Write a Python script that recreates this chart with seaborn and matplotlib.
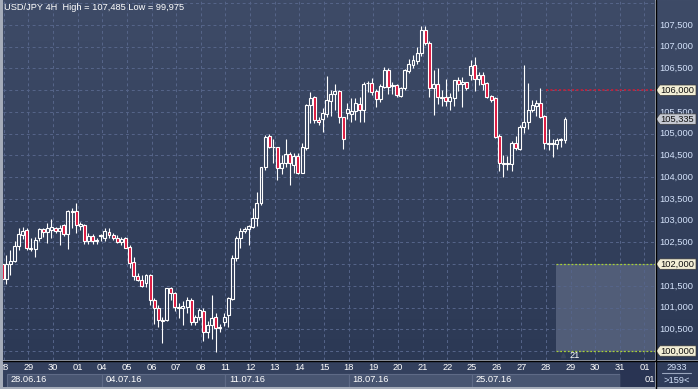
import numpy as np
import pandas as pd
import matplotlib
matplotlib.use("Agg")
import matplotlib.pyplot as plt
from matplotlib.colors import LinearSegmentedColormap
from matplotlib.patches import Rectangle, Polygon
from matplotlib.lines import Line2D
import seaborn as sns

# 4H candles, 28.06.16 - 28.07.16
opens = [102.00, 101.65, 102.00, 102.08, 102.42, 102.67, 102.78, 102.38, 102.35, 102.59,
         102.80, 102.73, 102.79, 102.82, 102.76, 102.90, 102.69, 103.20, 103.23, 102.88,
         102.90, 102.53, 102.65, 102.52, 102.64, 102.60, 102.73, 102.67, 102.60, 102.51,
         102.59, 102.40, 102.04, 101.72, 101.64, 101.56, 101.75, 101.17, 100.98, 100.72,
         100.71, 101.44, 101.33, 101.00, 100.99, 101.02, 101.17, 100.66, 100.78, 100.93,
         100.43, 100.60, 100.78, 100.53, 100.66, 100.83, 101.20, 102.13, 102.60, 102.75,
         102.80, 102.86, 103.05, 103.40, 104.23, 104.95, 104.69, 104.69, 104.20, 104.33,
         104.53, 104.28, 104.49, 104.10, 104.66, 105.66, 105.84, 105.31, 105.33, 105.45,
         105.76, 105.91, 105.98, 105.39, 105.48, 105.46, 105.52, 105.69, 105.55, 106.16,
         106.17, 105.99, 105.79, 106.08, 106.47, 106.10, 106.12, 105.87, 106.04, 106.45,
         106.58, 106.68, 106.85, 107.39, 107.09, 106.04, 106.14, 105.82, 105.84, 105.76,
         105.81, 106.23, 106.14, 106.18, 106.35, 106.58, 106.25, 106.35, 106.17, 105.87,
         105.81, 104.95, 104.33, 104.30, 104.30, 104.79, 104.64, 105.15, 105.28, 105.55,
         105.64, 105.71, 105.41, 104.78, 104.77, 104.76, 104.85, 104.85]
highs = [102.05, 102.21, 102.33, 102.52, 102.83, 102.85, 102.83, 102.61, 102.63, 102.83,
         102.83, 102.95, 103.03, 102.85, 102.90, 102.93, 103.25, 103.28, 103.40, 102.97,
         102.92, 102.71, 102.69, 102.60, 102.69, 102.82, 102.82, 102.71, 102.67, 102.62,
         102.62, 102.45, 102.16, 101.80, 101.75, 101.77, 101.77, 101.22, 101.05, 100.79,
         101.45, 101.48, 101.35, 101.10, 101.14, 101.24, 101.21, 100.83, 100.98, 100.98,
         100.68, 101.30, 100.88, 100.62, 100.87, 101.25, 102.21, 102.65, 102.82, 102.85,
         102.90, 103.30, 103.65, 104.24, 104.97, 104.99, 104.87, 104.70, 104.51, 104.87,
         104.57, 104.55, 104.55, 104.78, 105.68, 105.97, 105.87, 105.38, 105.58, 106.33,
         106.00, 106.14, 106.00, 105.39, 105.71, 105.81, 105.81, 105.84, 106.19, 106.22,
         106.27, 106.02, 106.14, 106.54, 106.50, 106.18, 106.14, 106.08, 106.49, 106.71,
         106.81, 107.00, 107.48, 107.485, 107.14, 106.46, 106.50, 106.00, 106.25, 105.93,
         106.24, 106.30, 106.30, 106.20, 106.69, 106.76, 106.41, 106.41, 106.20, 105.89,
         105.85, 104.99, 104.51, 104.49, 104.82, 104.95, 105.20, 106.58, 106.16, 105.78,
         105.78, 106.04, 105.43, 105.10, 104.87, 104.91, 104.91, 105.39]
lows = [101.58, 101.54, 101.75, 102.05, 102.33, 102.58, 102.33, 102.29, 102.17, 102.52,
        102.63, 102.49, 102.59, 102.72, 102.44, 102.65, 102.35, 102.82, 102.71, 102.79,
        102.46, 102.46, 102.46, 102.46, 102.53, 102.52, 102.60, 102.56, 102.48, 102.45,
        102.36, 101.90, 101.63, 101.60, 101.47, 101.48, 101.06, 100.62, 100.55, 100.19,
        100.70, 101.17, 100.91, 100.75, 100.60, 100.88, 100.60, 100.60, 100.71, 100.24,
        100.29, 100.27, 99.975, 100.43, 100.58, 100.56, 101.17, 102.08, 102.36, 102.72,
        102.44, 102.84, 102.88, 103.36, 104.17, 104.66, 104.33, 103.94, 104.07, 104.23,
        103.83, 104.09, 104.07, 104.09, 104.62, 105.24, 105.25, 105.20, 105.04, 105.39,
        105.41, 105.54, 105.25, 104.64, 105.33, 105.27, 105.31, 105.28, 105.28, 105.97,
        105.89, 105.62, 105.72, 106.06, 105.91, 105.91, 105.85, 105.84, 106.00, 106.40,
        106.50, 106.60, 106.79, 107.04, 105.85, 105.43, 105.68, 105.64, 105.64, 105.54,
        105.64, 105.99, 105.61, 106.01, 106.24, 105.99, 106.12, 106.00, 105.81, 105.73,
        104.89, 104.14, 104.00, 104.16, 104.15, 104.63, 104.63, 105.02, 105.10, 105.50,
        105.41, 105.35, 104.64, 104.63, 104.47, 104.64, 104.70, 104.79]
closes = [101.65, 102.00, 102.08, 102.42, 102.69, 102.75, 102.36, 102.35, 102.56, 102.80,
          102.73, 102.82, 102.85, 102.76, 102.84, 102.69, 103.23, 103.23, 102.90, 102.93,
          102.53, 102.65, 102.52, 102.55, 102.67, 102.75, 102.68, 102.59, 102.51, 102.58,
          102.38, 102.02, 101.73, 101.64, 101.50, 101.75, 101.17, 100.98, 100.72, 100.70,
          101.44, 101.33, 101.01, 101.02, 101.04, 101.17, 100.66, 100.78, 100.95, 100.43,
          100.60, 100.75, 100.52, 100.55, 100.79, 101.21, 102.13, 102.59, 102.76, 102.80,
          102.88, 103.05, 103.40, 104.23, 104.92, 104.69, 104.70, 104.20, 104.32, 104.53,
          104.32, 104.49, 104.10, 104.69, 105.66, 105.81, 105.31, 105.28, 105.47, 105.77,
          105.91, 105.98, 105.39, 104.87, 105.57, 105.52, 105.70, 105.55, 106.14, 106.17,
          105.97, 105.79, 106.10, 106.47, 106.08, 106.13, 105.89, 106.04, 106.47, 106.60,
          106.70, 106.86, 107.39, 107.09, 106.04, 106.14, 105.85, 105.85, 105.76, 105.84,
          106.24, 106.14, 106.18, 106.04, 106.56, 106.25, 106.35, 106.14, 105.85, 105.78,
          104.93, 104.32, 104.30, 104.33, 104.79, 104.66, 105.15, 105.28, 105.55, 105.66,
          105.71, 105.39, 104.78, 104.76, 104.78, 104.85, 104.87, 105.335]

day_labels = ['28', '29', '30', '01', '04', '05', '06', '07', '08', '11', '12', '13', '14',
              '15', '18', '19', '20', '21', '22', '25', '26', '27', '28', '29', '30', '31', '01']
week_labels = ['28.06.16', '04.07.16', '11.07.16', '18.07.16', '25.07.16']
week_first_day = [0, 4, 9, 14, 19, 25]
price_levels = [100.0, 100.5, 101.0, 101.5, 102.0, 102.5, 103.0, 103.5, 104.0, 104.5,
                105.0, 105.5, 106.0, 106.5, 107.0, 107.5, 108.0]
tag_levels = [106.0, 102.0, 100.0]
range_low, range_high = 100.0, 102.0
resistance = 106.0

df = pd.DataFrame({"open": opens, "high": highs, "low": lows, "close": closes})
df["idx"] = np.arange(len(df))
df["up"] = df["close"] >= df["open"]
df["top"] = df[["open", "close"]].max(axis=1)
df["bot"] = df[["open", "close"]].min(axis=1)

sns.set_theme(style="dark")
plt.rcParams["font.family"] = ["Liberation Sans", "DejaVu Sans"]

W, H = 698, 389
BG_TOP, BG_BOT = "#3e4b67", "#2c3955"
RED = "#dc143c"
GRID = "#56658a"
LABEL = "#d4e2fa"
FS = 6.7

# pixel layout of the chart
X0, DX = 2.2, 4.108          # pixel of first candle, pixel per candle
Y_REF, P_REF, PPU = 25, 107.5, 43.47
xmin, xmax = (3 - X0) / DX, (655 - X0) / DX
ymin, ymax = P_REF - (360 - Y_REF) / PPU, P_REF + Y_REF / PPU
bg_cmap = LinearSegmentedColormap.from_list("bg", [BG_BOT, BG_TOP])


def px_axes(x0, y0, x1, y1):
    return fig.add_axes([x0 / W, 1 - y1 / H, (x1 - x0) / W, (y1 - y0) / H])


def clean(a):
    a.set_xticks([])
    a.set_yticks([])
    for s in a.spines.values():
        s.set_visible(False)


fig = plt.figure(figsize=(W / 100, H / 100), dpi=100, facecolor="#a5acb9")

# main price panel
ax = px_axes(3, 0, 655, 360)
clean(ax)
ax.imshow(np.linspace(0, 1, 256).reshape(-1, 1), extent=[xmin, xmax, ymin, ymax],
          origin="lower", aspect="auto", cmap=bg_cmap, zorder=0)

day_pos = [6 * k + 0.35 for k in range(len(day_labels))]
for p in price_levels:
    ax.axhline(p, color=GRID, lw=0.7, ls=(0, (3, 3)), zorder=1)
for d in day_pos:
    ax.axvline(d, color=GRID, lw=0.7, ls=(0, (3, 3)), zorder=1)

# range box and levels
bx0 = (556 - X0) / DX
ax.add_patch(Rectangle((bx0, range_low), xmax - bx0, range_high - range_low,
                       facecolor="#515d78", edgecolor="none", zorder=0.5))
for p in (range_low, range_high):
    ax.plot([bx0, xmax], [p, p], color="#a8d034", lw=0.9, ls=(0, (1.5, 1.5)), zorder=2)
ax.plot([(546 - X0) / DX, xmax], [resistance, resistance], color="#c0203a", lw=1.3,
        ls=(0, (1.2, 1.2)), zorder=2)
ax.text((575 - X0) / DX, P_REF - (355 - Y_REF) / PPU, "21", color="white",
        fontsize=FS, ha="center", va="center", zorder=3)
ax.plot([(563 - X0) / DX], [P_REF - (355 - Y_REF) / PPU], marker="^", ms=3,
        color="#3a4660", zorder=3)

# candles
ax.vlines(df["idx"], df["top"], df["high"], color="white", lw=0.8, zorder=3)
ax.vlines(df["idx"], df["low"], df["bot"], color="white", lw=0.8, zorder=3)
body_fc = ["none" if u else RED for u in df["up"]]
ax.bar(df["idx"], np.maximum(df["top"] - df["bot"], 0.012), bottom=df["bot"], width=0.72,
       color=body_fc, edgecolor="white", linewidth=0.8, zorder=4)

ax.set_xlim(xmin, xmax)
ax.set_ylim(ymin, ymax)

fig.text(4 / W, 1 - 8 / H, "USD/JPY 4H  High = 107,485 Low = 99,975", color="white",
         fontsize=FS, ha="left", va="center")

# right price scale
axr = px_axes(656, 0, 698, 360)
clean(axr)
axr.imshow(np.linspace(0, 1, 256).reshape(-1, 1), extent=[656, 698, ymin, ymax],
           origin="lower", aspect="auto", cmap=bg_cmap, zorder=0)
for p in price_levels:
    if p in tag_levels or p > ymax - 0.1:
        continue
    axr.text(659, p, f"{p:.3f}".replace(".", ","), color=LABEL, fontsize=FS,
             ha="left", va="center", zorder=2)


def tag(p, text, fc):
    h = 5.2 / PPU
    axr.add_patch(Polygon([(656, p), (660, p + h), (696, p + h), (696, p - h), (660, p - h)],
                          closed=True, facecolor=fc, edgecolor="#3a3a3a", lw=0.5, zorder=3))
    axr.text(660.5, p, text, color="#111111", fontsize=FS, ha="left", va="center", zorder=4)


for p in tag_levels:
    tag(p, f"{p:.3f}".replace(".", ","), "#f3efd6")
tag(closes[-1], f"{closes[-1]:.3f}".replace(".", ","), "#c6cad3")
axr.set_xlim(656, 698)
axr.set_ylim(ymin, ymax)

# bottom time scale
axb = px_axes(3, 361, 655, 387)
clean(axb)
axb.set_facecolor("#33405d")
axb.set_xlim(xmin, xmax)
axb.set_ylim(0, 26)
for d, lab in zip(day_pos, day_labels):
    t = axb.text(d, 19, lab, color="white", fontsize=FS, ha="center", va="center")
    t.set_clip_on(True)
for i, lab in enumerate(week_labels):
    start = day_pos[week_first_day[i]] if i else (7 - X0) / DX
    end = day_pos[week_first_day[i + 1]]
    axb.add_patch(Rectangle((start, 0.5), end - start, 13, facecolor="#485571",
                            edgecolor="#5e6a86", lw=0.8))
    axb.text(start + 0.9, 7, lab, color="white", fontsize=FS, ha="left", va="center")
fut = day_pos[week_first_day[-1]]
axb.add_patch(Rectangle((fut, 0), xmax - fut, 26, facecolor="#263150", alpha=0.75,
                        edgecolor="none"))
t = axb.text(xmax - 1.2, 7, "01", color="white", fontsize=FS, ha="center", va="center")
t.set_clip_on(True)

# corner box
axc = px_axes(656, 361, 698, 387)
clean(axc)
axc.set_facecolor("#2f3c5a")
axc.set_xlim(0, 42)
axc.set_ylim(0, 26)
axc.text(21, 20, "2933", color=LABEL, fontsize=FS, ha="center", va="center")
axc.plot([6, 35], [14, 14], color="#9aa6be", lw=0.8)
axc.text(21, 6.5, ">159<", color=LABEL, fontsize=FS, ha="center", va="center")

# separators
fig.add_artist(Line2D([655.5 / W, 655.5 / W], [0, 1], color="black", lw=1.0))
fig.add_artist(Line2D([3 / W, 1], [1 - 360.5 / H, 1 - 360.5 / H], color="black", lw=1.0))

fig.savefig("out.png", dpi=100, facecolor=fig.get_facecolor())
